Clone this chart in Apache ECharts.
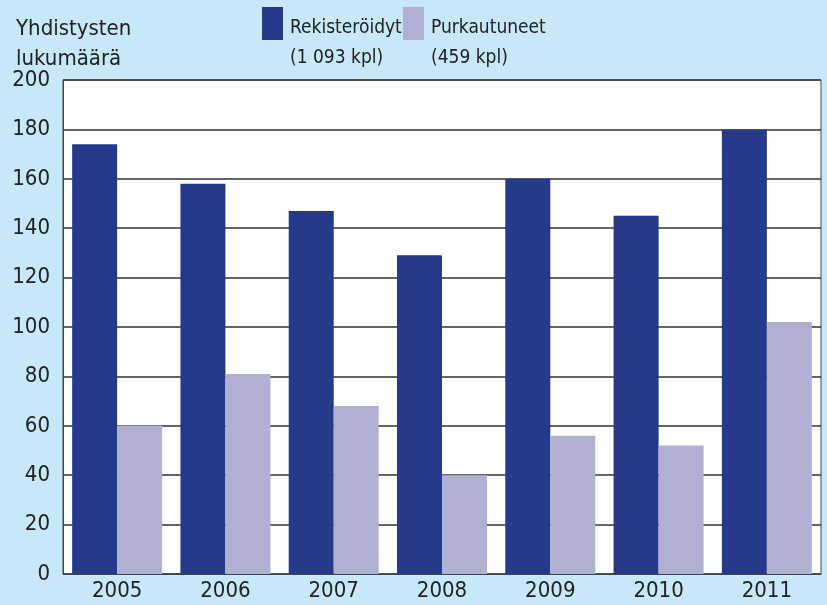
<!DOCTYPE html>
<html>
<head>
<meta charset="utf-8">
<script src="https://cdn.jsdelivr.net/npm/echarts@6/dist/echarts.min.js"></script>
<style>
  html, body { margin: 0; padding: 0; background: #c6e8f8; }
  #chart { width: 827px; height: 605px; }
</style>
</head>
<body>
<div id="chart"></div>
<script>
var years = ['2005', '2006', '2007', '2008', '2009', '2010', '2011'];
var registered = [174, 158, 147, 129, 160, 145, 180];
var dissolved = [60, 81, 68, 40, 56, 52, 102];
var yTicks = [0, 20, 40, 60, 80, 100, 120, 140, 160, 180, 200];
var seriesNames = ['Rekisteröidyt', 'Purkautuneet'];
var seriesTotals = ['(1 093 kpl)', '(459 kpl)'];
var seriesColors = ['#263a8a', '#b0b0d4'];

var fontName = '"DejaVu Sans Condensed", "Roboto", sans-serif';
var chart = echarts.init(document.getElementById('chart'));

// legend drawn by hand: two-line labels sit below the swatch centre
var legendX = [262, 403];
var legendGraphic = [];
for (var i = 0; i < seriesNames.length; i++) {
    legendGraphic.push({
        type: 'rect',
        left: legendX[i], top: 7,
        shape: { width: 21, height: 33 },
        style: { fill: seriesColors[i] }
    });
    legendGraphic.push({
        type: 'text',
        left: legendX[i] + 28, top: 13,
        style: {
            text: seriesNames[i] + '\n' + seriesTotals[i],
            fontFamily: fontName,
            fontSize: 19,
            fill: '#222',
            lineHeight: 30
        }
    });
}

chart.setOption({
    backgroundColor: '#c6e8f8',
    textStyle: { fontFamily: fontName, color: '#222' },
    title: {
        text: 'Yhdistysten\nlukumäärä',
        left: 11,
        top: 9,
        textStyle: { fontFamily: fontName, fontSize: 22, fontWeight: 'normal', color: '#222', lineHeight: 30 }
    },
    graphic: legendGraphic,
    grid: {
        left: 63, top: 80, right: 6, bottom: 31,
        show: true, borderColor: '#444', borderWidth: 1, backgroundColor: '#fff'
    },
    xAxis: {
        type: 'category',
        data: years,
        axisTick: { show: false },
        axisLine: { lineStyle: { color: '#444', width: 1 } },
        axisLabel: { fontFamily: fontName, fontSize: 22, color: '#222', margin: 6 }
    },
    yAxis: {
        type: 'value',
        min: yTicks[0],
        max: yTicks[yTicks.length - 1],
        interval: 20,
        axisLine: { show: true, lineStyle: { color: '#444', width: 1 } },
        axisTick: { show: false },
        axisLabel: { fontFamily: fontName, fontSize: 22, color: '#222', margin: 13 },
        splitLine: { lineStyle: { color: '#333', width: 1.5 } }
    },
    series: [{
        name: seriesNames[0],
        type: 'bar',
        data: registered,
        barWidth: 45,
        barGap: '0%',
        itemStyle: { color: seriesColors[0] }
    }, {
        name: seriesNames[1],
        type: 'bar',
        data: dissolved,
        barWidth: 45,
        itemStyle: { color: seriesColors[1] }
    }]
});
</script>
</body>
</html>
